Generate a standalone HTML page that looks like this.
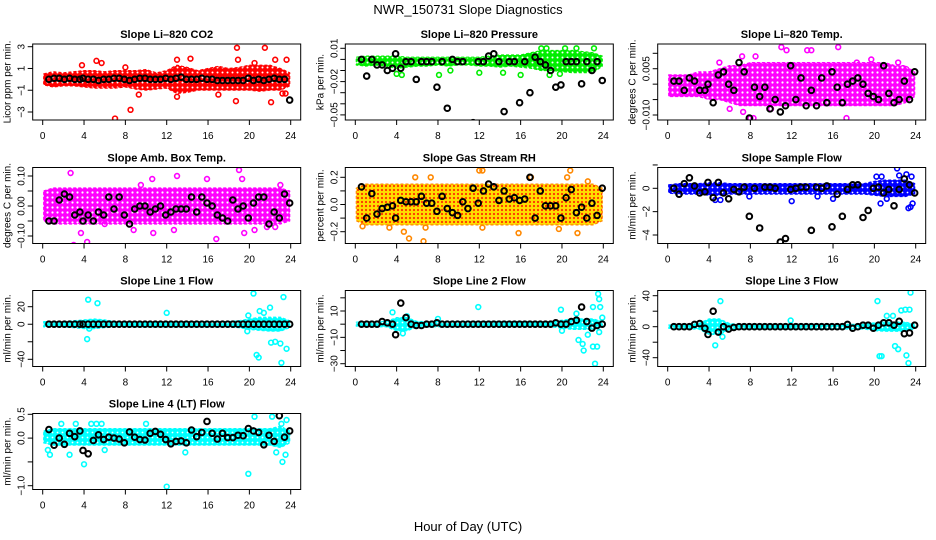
<!DOCTYPE html>
<html><head><meta charset="utf-8"><style>
html,body{margin:0;padding:0;background:#fff;}
svg{display:block;font-family:"Liberation Sans",sans-serif;}
</style></head><body>
<svg id="chart" width="936" height="540" viewBox="0 0 936 540" xmlns="http://www.w3.org/2000/svg">
<defs>
<pattern id="p-red" width="5" height="5" patternUnits="userSpaceOnUse"><rect width="5" height="5" fill="#ff0000"/><circle cx="2.5" cy="2.5" r="1" fill="#fff"/></pattern>
<pattern id="p-green" width="5" height="5" patternUnits="userSpaceOnUse"><rect width="5" height="5" fill="#00ee00"/><circle cx="2.5" cy="2.5" r="1" fill="#fff"/></pattern>
<pattern id="p-magenta" width="5" height="5" patternUnits="userSpaceOnUse"><rect width="5" height="5" fill="#ff00ff"/><circle cx="2.5" cy="2.5" r="1.1" fill="#fff"/></pattern>
<pattern id="p-orange" width="4" height="4" patternUnits="userSpaceOnUse"><rect width="4" height="4" fill="#ffdd00"/><circle cx="2" cy="2" r="1.1" fill="#ff3300"/></pattern>
<pattern id="p-blue" width="5" height="5" patternUnits="userSpaceOnUse"><rect width="5" height="5" fill="#0000ff"/><circle cx="2.5" cy="2.5" r="0.9" fill="#fff"/></pattern>
<pattern id="p-cyan" width="5" height="5" patternUnits="userSpaceOnUse"><rect width="5" height="5" fill="#00ffff"/><circle cx="2.5" cy="2.5" r="0.9" fill="#fff"/></pattern>
</defs>
<text x="468" y="14" text-anchor="middle" font-size="13">NWR_150731  Slope Diagnostics</text>
<text x="468" y="531" text-anchor="middle" font-size="13">Hour of Day (UTC)</text>
</svg>
<script>
// shared category arrays
const bandHours = [0,1,2,3,4,5,6,7,8,9,10,11,12,13,14,15,16,17,18,19,20,21,22,23,24];
const blackHours = [0.6,1.1,1.6,2.1,2.6,3.1,3.6,3.9,4.4,4.9,5.4,5.9,6.4,6.9,7.4,7.9,8.4,8.9,9.4,9.9,10.4,10.9,11.4,11.9,12.4,12.9,13.4,13.9,14.4,14.9,15.4,15.9,16.4,16.9,17.4,17.9,18.4,18.9,19.4,19.9,20.4,20.9,21.4,21.9,22.4,22.9,23.4,23.9];
const xTickLabels = ["0","4","8","12","16","20","24"];
const xTickValues = [0,4,8,12,16,20,24];

// Panel 1: CO2
const co2Lo = [-0.5,-0.7,-0.6,-0.6,-0.7,-0.8,-0.8,-0.8,-0.7,-0.9,-1,-0.9,-0.8,-1.3,-1.2,-1,-1,-1,-1,-1,-1,-1.1,-1,-1,-0.6];
const co2Hi = [0.5,0.7,0.6,0.7,0.8,0.8,0.7,0.8,0.8,0.8,0.9,0.6,0.8,1.3,1.1,0.8,1,1.2,1,1.1,1.3,1.3,1.3,1,0.6];
const co2OutH = [3.8,5.2,5.7,7,8.5,9.3,13,13,14.3,17,18.7,18.8,18.9,21.5,22.1,22.5,23.2,23.5,23.6,8,20.5];
const co2OutV = [1.3,1.7,1.5,-3.6,-2.8,-1.4,-1.6,1.8,1.9,-1.4,-2,2.9,1.8,2.9,-2.1,1.8,-1.3,-1.3,1.8,1.1,1.5];
const co2Black = [0,0.1,0.1,0,0.1,0,0,0.1,0,0,-0.1,0,0,0.1,0.1,0,-0.1,0,0.1,0.1,0,0,0,0.1,0,0.1,0.2,0,0,0,0.1,0,0,-0.1,-0.1,-0.1,-0.1,-0.1,-0.1,0.1,-0.1,0,-0.1,0,0.1,0,0,-1.9];
const co2Ticks = [3,1,-1,-3];
const co2TickLabels = ["3","1","\u22121","\u22123"];

// Panel 2: Pressure
const presLo = [-0.005,-0.006,-0.005,-0.006,-0.008,-0.007,-0.006,-0.006,-0.005,-0.006,-0.005,-0.005,-0.006,-0.006,-0.007,-0.006,-0.007,-0.008,-0.01,-0.01,-0.011,-0.012,-0.012,-0.012,-0.006];
const presHi = [0.002,0.003,0.003,0.003,0.003,0.002,0.002,0.002,0.002,0.002,0.002,0.002,0.002,0.003,0.004,0.004,0.004,0.006,0.008,0.008,0.008,0.008,0.007,0.006,0.003];
const presOutH = [4,4.5,8,8.1,9.2,12,14.3,16,16,18,18.5,18.8,20.3,21.4,23.1,23.9,19.8];
const presOutV = [-0.013,-0.014,-0.06,-0.014,-0.01,-0.012,-0.012,-0.059,-0.014,0.01,0.01,-0.014,0.01,0.01,0.01,-0.06,-0.013];
const presBlack = [0,-0.015,0,-0.005,-0.005,-0.01,-0.008,0.005,-0.008,-0.002,-0.002,-0.018,-0.002,-0.002,-0.002,-0.025,-0.002,-0.044,0,-0.002,-0.002,-0.058,-0.057,-0.002,-0.002,0.003,0.005,-0.002,-0.047,-0.002,-0.002,-0.039,-0.002,-0.03,0.002,-0.002,-0.005,-0.01,-0.025,-0.023,-0.002,-0.002,-0.002,-0.022,-0.002,-0.01,-0.002,-0.019];
const presTicks = [0.01,0,-0.01,-0.02,-0.03,-0.04,-0.05];
const presTickLabels = ["0.01","","","\u22120.02","","","\u22120.05"];

// Panel 3: Li-820 temp
const ltLo = [-0.004,-0.004,-0.004,-0.004,-0.005,-0.005,-0.006,-0.007,-0.007,-0.007,-0.007,-0.007,-0.007,-0.007,-0.007,-0.007,-0.007,-0.007,-0.007,-0.007,-0.007,-0.007,-0.007,-0.006,-0.004];
const ltHi = [0.003,0.003,0.003,0.004,0.004,0.005,0.006,0.006,0.007,0.007,0.007,0.007,0.007,0.007,0.007,0.007,0.007,0.007,0.007,0.007,0.007,0.007,0.006,0.006,0.004];
const ltOutH = [5,7.2,7.3,8,8.3,8.5,11,11.5,13.5,13.9,16.5,17.3,19.7,18.3,22.3,10,6];
const ltOutV = [0.007,0.009,-0.009,-0.011,-0.011,0.009,0.012,0.011,0.011,0.011,0.012,-0.011,0.008,0.007,0.007,-0.008,-0.008];
const ltBlack = [0.001,0.001,-0.002,0.002,0.001,-0.002,-0.002,0,-0.006,0.003,0.004,0,-0.002,0.007,0.004,-0.011,-0.001,-0.004,-0.001,-0.008,-0.005,-0.009,-0.007,0.006,-0.005,0.002,-0.007,-0.002,-0.007,0.002,-0.006,0.004,-0.001,-0.006,0,0.001,0.002,0,-0.003,-0.004,-0.005,0.006,-0.003,-0.006,-0.005,0.001,-0.005,0.004];
const ltTicks = [0.01,0.005,0,-0.005,-0.01];
const ltTickLabels = ["","0.005","","","\u22120.010"];

// Panel 4: Amb box temp
const abLo = [-0.05,-0.06,-0.06,-0.06,-0.06,-0.06,-0.06,-0.06,-0.06,-0.06,-0.06,-0.06,-0.06,-0.06,-0.06,-0.06,-0.06,-0.06,-0.06,-0.06,-0.06,-0.06,-0.06,-0.06,-0.05];
const abHi = [0.05,0.06,0.06,0.06,0.06,0.06,0.06,0.06,0.06,0.06,0.06,0.06,0.06,0.06,0.06,0.06,0.06,0.06,0.06,0.06,0.06,0.06,0.06,0.06,0.05];
const abOutH = [2.7,3,4.3,3.7,6,10.6,10.7,12.7,13,15.9,16.8,19,19.3,19.5,20.5,21.7,23,8.8,9.5,22.5];
const abOutV = [0.11,-0.13,-0.12,-0.09,-0.06,0.09,-0.09,-0.08,0.1,0.09,-0.11,0.12,0.09,-0.09,-0.08,-0.07,0.07,-0.08,0.07,-0.07];
const abBlack = [-0.05,-0.05,0.02,0.04,0.03,-0.03,-0.02,-0.05,-0.03,-0.05,-0.02,-0.03,0.03,-0.01,0.03,-0.03,-0.06,-0.01,0,0,-0.02,-0.01,0,-0.03,-0.02,-0.01,-0.01,-0.01,0.03,-0.02,0.03,0.01,0,-0.03,-0.04,-0.05,0.02,-0.01,0,-0.04,0.01,0.03,0.03,-0.06,-0.02,-0.04,0.04,0.01];
const abTicks = [0.1,0.05,0,-0.05,-0.1];
const abTickLabels = ["0.10","","0.00","","\u22120.10"];

// Panel 5: Gas stream RH
const rhLo = [-0.12,-0.15,-0.15,-0.15,-0.15,-0.15,-0.15,-0.15,-0.15,-0.15,-0.15,-0.15,-0.15,-0.15,-0.15,-0.15,-0.15,-0.15,-0.15,-0.15,-0.15,-0.15,-0.15,-0.15,-0.12];
const rhHi = [0.12,0.15,0.15,0.15,0.15,0.15,0.15,0.15,0.15,0.15,0.15,0.15,0.15,0.15,0.15,0.15,0.15,0.15,0.15,0.15,0.15,0.15,0.15,0.15,0.12];
const rhOutH = [0.7,3.3,4.7,5.2,5.8,6.6,6.8,7.3,12,12.3,12.3,15.8,17,20.5,20.8,21.5,22.5,19.7];
const rhOutV = [-0.16,-0.17,-0.2,-0.25,0.2,-0.27,-0.17,0.2,0.25,0.25,-0.17,-0.21,0.2,0.2,0.25,-0.21,0.17,-0.18];
const rhBlack = [0.13,-0.1,0.08,-0.07,-0.03,-0.02,-0.01,-0.1,0.03,0.02,0.02,0.02,0.06,0.01,0.01,-0.05,0.06,-0.03,-0.06,-0.08,0.02,-0.03,0.12,0.01,0.1,0.15,0.13,0.03,0.1,0.04,0.05,0.03,0.04,0.2,-0.1,0.1,-0.01,-0.01,-0.01,-0.1,0.05,0.11,-0.06,-0.02,-0.1,0.01,-0.08,0.12];
const rhTicks = [0.2,0.1,0,-0.1,-0.2];
const rhTickLabels = ["0.2","","0.0","","\u22120.2"];

// Panel 6: Sample flow
const sfLo = [-0.4,-0.5,-0.5,-0.5,-0.6,-0.6,-0.5,-0.5,-0.5,-0.5,-0.5,-0.5,-0.5,-0.5,-0.5,-0.5,-0.5,-0.5,-0.5,-0.5,-0.6,-0.7,-0.7,-0.7,-0.5];
const sfHi = [0.3,0.4,0.4,0.4,0.5,0.5,0.4,0.4,0.4,0.4,0.4,0.4,0.4,0.4,0.4,0.4,0.4,0.4,0.4,0.4,0.6,0.7,0.7,0.7,0.4];
const sfOutH = [4.6,5.1,7.9,12,14.5,16,20.2,20.7,20.6,21.2,22.2,22.4,23.1,23.3,23.5,23.6,23.7];
const sfOutV = [-1,-1,-0.7,-1.1,-0.7,-0.9,1,1,-1.3,-0.9,1.7,1.1,1.2,-1.7,-1.6,1,-1.3];
const sfBlack = [0,-0.5,0.4,0.9,0.2,-0.4,-0.3,0.5,-0.8,0.5,-0.4,-0.9,-0.1,-0.3,0.1,-2.4,0,-3.4,0.1,0.1,0,-4.6,-4.3,-0.1,0,0.1,0.1,-3.6,0.1,0,0.2,-3.3,-0.5,-2.4,-0.1,0.3,0.3,-2.5,-1.9,0,0.1,-0.4,-0.1,-1.5,-0.1,0.8,0.3,-0.4];
const sfTicks = [2,0,-2,-4];
const sfTickLabels = ["","0","\u22122","\u22124"];

// Panel 7: Line 1 flow
const l1Lo = [-3,-3,-3,-4,-5,-5,-4,-3,-3,-3,-3,-3,-3,-3,-3,-3,-3,-3,-3,-4,-6,-7,-8,-8,-4];
const l1Hi = [3,3,3,4,5,6,5,3,3,3,3,3,3,3,3,3,3,3,3,4,6,8,8,8,4];
const l1OutH = [4.4,5.3,4.3,12,20.4,20.7,20.9,21,21.4,22,22.1,22.5,23,23.1,23.3,23.6,19.8,19.9,4.5];
const l1OutV = [28,24,-17,13,35,-35,-38,15,13,19,-21,-20,-22,-44,31,-28,-8,10,-5];
const l1Black = [0,0,0,0,0,0,0,0,0,0,0,0,0,0,0,0,0,0,0,0,0,0,0,0,0,0,0,0,0,0,0,0,0,0,0,0,0,0,0,0,0,0,0,0,0,0,0,0];
const l1Ticks = [20,0,-20,-40];
const l1TickLabels = ["20","0","","\u221240"];

// Panel 8: Line 2 flow
const l2Lo = [-1.5,-2,-2,-2,-5,-5,-2,-2,-2,-2,-2,-2,-2,-2,-2,-2,-2,-2,-2,-2,-3,-4,-4,-4,-2];
const l2Hi = [1.5,2,2,2,5,5,2,2,2,2,2,2,2,2,2,2,2,2,2,2,3,4,4,4,2];
const l2OutH = [3.6,4.6,5,8,11.9,19.9,20,21.4,21.6,22,22.1,22.5,23,23.2,23.4,23.5,23.6,23.7,23.9,23,23.6];
const l2OutV = [9,-7,6,4,13,11,-5,8,-12,-15,-20,-8,-17,-30,-17,23,19,13,5,13,-6];
const l2Black = [0,0,0,0,2,1,0,-8,16,5,0,-1,-1,0,0,1,0,0,0,0,0,0,0,0,0,0,0,0,0,0,0,0,0,0,0,0,0,0,1,0,0,2,3,13,2,-3,-1,0];
const l2Ticks = [20,10,0,-10,-20,-30];
const l2TickLabels = ["","10","","\u221210","","\u221230"];

// Panel 9: Line 3 flow
const l3Lo = [-2,-3,-3,-3,-10,-10,-4,-3,-3,-3,-3,-3,-3,-3,-3,-3,-3,-3,-3,-3,-5,-6,-6,-6,-3];
const l3Hi = [2,3,3,4,10,10,4,3,3,3,3,3,3,3,3,3,3,3,3,3,5,6,6,6,3];
const l3OutH = [4.6,5.1,5.3,11.9,20.3,20.5,20.7,21.2,21.8,22,22.3,22.6,23,23.1,23.5,23.3,23.4];
const l3OutV = [-24,33,-13,8,33,-38,-38,14,14,-25,-29,21,22,-37,44,-47,22];
const l3Black = [0,0,0,0,3,4,-2,-10,20,-7,0,-3,-1,0,0,0,0,0,0,0,0,0,0,0,0,0,0,0,0,0,0,0,0,0,3,-2,0,2,2,-2,2,5,5,2,7,-9,-8,2];
const l3Ticks = [40,20,0,-20,-40];
const l3TickLabels = ["40","","0","","\u221240"];

// Panel 10: Line 4 (LT) flow
const l4Lo = [-0.1,-0.15,-0.15,-0.15,-0.15,-0.15,-0.15,-0.15,-0.15,-0.15,-0.15,-0.15,-0.15,-0.15,-0.15,-0.15,-0.15,-0.15,-0.15,-0.15,-0.15,-0.15,-0.15,-0.2,-0.1];
const l4Hi = [0.15,0.2,0.2,0.2,0.2,0.2,0.2,0.2,0.2,0.2,0.2,0.2,0.2,0.2,0.2,0.2,0.2,0.2,0.2,0.2,0.2,0.2,0.2,0.25,0.15];
const l4OutH = [0.5,0.7,1.8,2.6,3.2,4,4.7,5.2,5.7,6,10,12,13.8,19.9,20.5,22.2,22.6,23.2,23.5,23.6,23.1];
const l4OutV = [-0.25,-0.35,0.3,-0.35,0.3,-0.55,0.3,0.3,0.3,-0.25,0.3,-1.02,-0.3,-0.75,0.45,0.45,-0.3,-0.5,-0.35,0.38,0.3];
const l4Black = [0.18,-0.15,0,-0.13,0.1,0.03,0.15,-0.26,-0.33,-0.05,0.07,-0.03,0.02,0,-0.02,-0.1,0.13,0.02,-0.03,-0.04,0.1,0.14,0.08,-0.03,-0.12,-0.07,-0.06,-0.1,0.17,0.03,0.12,0.35,0.1,-0.02,0.1,0.01,0.01,0.06,0.05,0.2,0.15,0.12,-0.14,0.06,-0.07,0.47,0.02,0.15];
const l4Ticks = [0.5,0,-0.5,-1];
const l4TickLabels = ["0.5","0.0","","\u22121.0"];

const NS = "http://www.w3.org/2000/svg";
const svg = document.getElementById('chart');
function mk(tag, attrs, parent){
  const e = document.createElementNS(NS, tag);
  for (const k in attrs) e.setAttribute(k, attrs[k]);
  (parent||svg).appendChild(e); return e;
}
const colX = [42.7, 355.3, 667.7];
const rowTop = [44, 167.5, 290.5, 413.5];
const boxH = 76;
const panels = [
 {name:'co2', title:'Slope Li\u2013820 CO2', ylab:'Licor ppm per min.', col:0,row:0, a:[3,46.7], b:[-3,112], lo:co2Lo, hi:co2Hi, oh:co2OutH, ov:co2OutV, bk:co2Black, ticks:co2Ticks, tl:co2TickLabels, color:'#ff0000', pat:'p-red'},
 {name:'pressure', title:'Slope Li\u2013820 Pressure', ylab:'kPa per min.', col:1,row:0, a:[0.01,48.3], b:[-0.05,114.9], lo:presLo, hi:presHi, oh:presOutH, ov:presOutV, bk:presBlack, ticks:presTicks, tl:presTickLabels, color:'#00ee00', pat:'p-green'},
 {name:'li-temp', title:'Slope Li\u2013820 Temp.', ylab:'degrees C per min.', col:2,row:0, a:[0.01,53.3], b:[-0.01,115], lo:ltLo, hi:ltHi, oh:ltOutH, ov:ltOutV, bk:ltBlack, ticks:ltTicks, tl:ltTickLabels, color:'#ff00ff', pat:'p-magenta'},
 {name:'amb-box-temp', title:'Slope Amb. Box Temp.', ylab:'degrees C per min.', col:0,row:1, a:[0.1,176], b:[-0.1,236], lo:abLo, hi:abHi, oh:abOutH, ov:abOutV, bk:abBlack, ticks:abTicks, tl:abTickLabels, color:'#ff00ff', pat:'p-magenta'},
 {name:'gas-rh', title:'Slope Gas Stream RH', ylab:'percent per min.', col:1,row:1, a:[0.2,177.3], b:[-0.2,231.7], lo:rhLo, hi:rhHi, oh:rhOutH, ov:rhOutV, bk:rhBlack, ticks:rhTicks, tl:rhTickLabels, color:'#ff8800', pat:'p-orange'},
 {name:'sample-flow', title:'Slope Sample Flow', ylab:'ml/min per min.', col:2,row:1, a:[0,188.3], b:[-4,235], lo:sfLo, hi:sfHi, oh:sfOutH, ov:sfOutV, bk:sfBlack, ticks:sfTicks, tl:sfTickLabels, color:'#0000ff', pat:'p-blue'},
 {name:'line1-flow', title:'Slope Line 1 Flow', ylab:'ml/min per min.', col:0,row:2, a:[20,306.7], b:[-40,359.3], lo:l1Lo, hi:l1Hi, oh:l1OutH, ov:l1OutV, bk:l1Black, ticks:l1Ticks, tl:l1TickLabels, color:'#00ffff', pat:'p-cyan'},
 {name:'line2-flow', title:'Slope Line 2 Flow', ylab:'ml/min per min.', col:1,row:2, a:[10,311], b:[-30,363.7], lo:l2Lo, hi:l2Hi, oh:l2OutH, ov:l2OutV, bk:l2Black, ticks:l2Ticks, tl:l2TickLabels, color:'#00ffff', pat:'p-cyan'},
 {name:'line3-flow', title:'Slope Line 3 Flow', ylab:'ml/min per min.', col:2,row:2, a:[40,295.7], b:[-40,357.7], lo:l3Lo, hi:l3Hi, oh:l3OutH, ov:l3OutV, bk:l3Black, ticks:l3Ticks, tl:l3TickLabels, color:'#00ffff', pat:'p-cyan'},
 {name:'line4-flow', title:'Slope Line 4 (LT) Flow', ylab:'ml/min per min.', col:0,row:3, a:[0.5,414.3], b:[-1,485.7], lo:l4Lo, hi:l4Hi, oh:l4OutH, ov:l4OutV, bk:l4Black, ticks:l4Ticks, tl:l4TickLabels, color:'#00ffff', pat:'p-cyan'}
];
panels.forEach(p=>{
  const x0 = colX[p.col], pxh = 248/24;
  const L = x0 - 10, R = x0 + 258, T = rowTop[p.row], B = T + boxH;
  const xs = h => x0 + h*pxh;
  const ys = v => p.a[1] + (v - p.a[0]) * (p.b[1]-p.a[1])/(p.b[0]-p.a[0]);
  const g = mk('g', {});
  
  
  const clipId = 'clip-' + p.name;
  const cp = mk('clipPath', {id: clipId}, g);
  mk('rect', {x:L, y:T, width:R-L, height:B-T}, cp);
  const plot = mk('g', {'clip-path':'url(#'+clipId+')'}, g);
  let pts = [];
  bandHours.forEach((h,i)=>pts.push(xs(Math.max(0.1,Math.min(23.9,h))).toFixed(1)+','+ys(p.hi[i]).toFixed(1)));
  for (let i=bandHours.length-1;i>=0;i--) pts.push(xs(Math.max(0.1,Math.min(23.9,bandHours[i]))).toFixed(1)+','+ys(p.lo[i]).toFixed(1));
  const band = mk('polygon', {points:pts.join(' '), fill:'url(#'+p.pat+')', stroke:p.color, 'stroke-width':1.2, 'stroke-dasharray':'3 2', 'stroke-linejoin':'round'}, plot);
  
  
  p.oh.forEach((h,i)=>{
    const c = mk('circle', {cx:xs(h), cy:ys(p.ov[i]), r:2.4, fill:'none', stroke:p.color, 'stroke-width':1.6}, plot);
    
    
  });
  const n = Math.min(blackHours.length, p.bk.length);
  for (let i=0;i<n;i++){
    const c = mk('circle', {cx:xs(blackHours[i]), cy:ys(p.bk[i]), r:2.8, fill:'none', stroke:'#000', 'stroke-width':2}, plot);
    
    
  }
  const box = mk('rect', {x:L, y:T, width:R-L, height:B-T, fill:'none', stroke:'#000', 'stroke-width':1}, g);
  
  
  xTickValues.forEach((v,i)=>{
    mk('line', {x1:xs(v), x2:xs(v), y1:B, y2:B+5, stroke:'#000'}, g);
    const t = mk('text', {x:xs(v), y:B+19, 'text-anchor':'middle', 'font-size':10}, g);
    t.textContent = xTickLabels[i];
    
    
  });
  p.ticks.forEach((v,i)=>{
    const y = ys(v);
    mk('line', {x1:L, x2:L-5, y1:y, y2:y, stroke:'#000'}, g);
    if (p.tl[i]) {
      const t = mk('text', {x:0, y:0, 'text-anchor':'middle', 'font-size':10, transform:'translate('+(L-8)+','+y+') rotate(-90)'}, g);
      t.textContent = p.tl[i];
      
      
    }
  });
  const yl = mk('text', {x:0, y:0, 'text-anchor':'middle', 'font-size':10, transform:'translate('+(L-22)+','+((T+B)/2)+') rotate(-90)'}, g);
  yl.textContent = p.ylab;
  
  
  const tt = mk('text', {x:(L+R)/2, y:T-6, 'text-anchor':'middle', 'font-size':11, 'font-weight':'bold'}, g);
  tt.textContent = p.title;
  
  
});
</script>
</body></html>
